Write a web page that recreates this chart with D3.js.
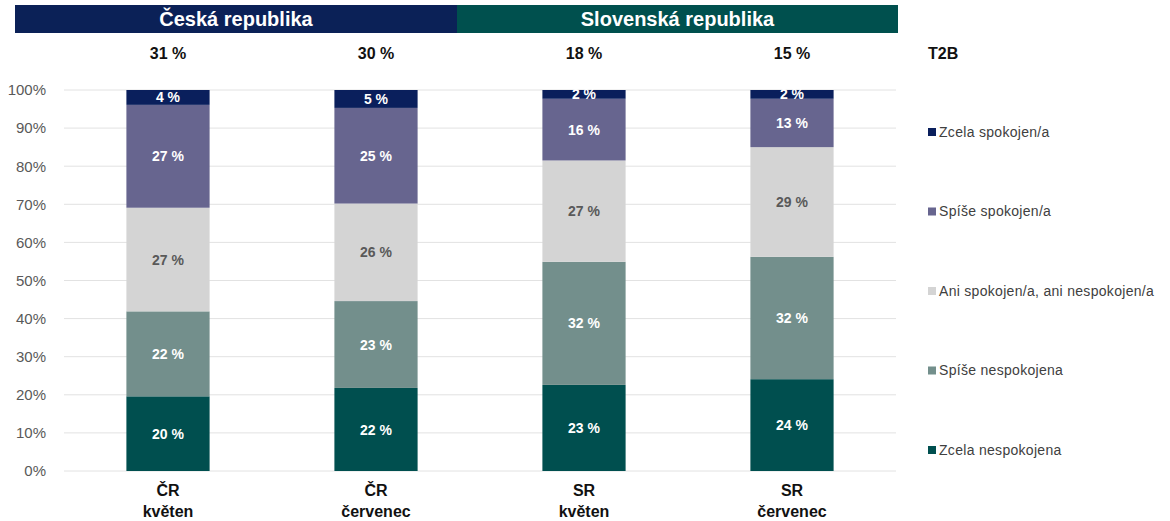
<!DOCTYPE html>
<html>
<head>
<meta charset="utf-8">
<script src="https://cdn.jsdelivr.net/npm/d3@7"></script>
<style>
  body { margin: 0; background: #fff; }
  svg { display: block; font-family: "Liberation Sans", Arial, sans-serif; }
</style>
</head>
<body>
<div id="chart"></div>
<script>
// categories (two lines each)
const categories = ['ČR|květen', 'ČR|červenec', 'SR|květen', 'SR|červenec'];
const t2b = [31, 30, 18, 15];

// series, bottom to top
const seriesNames = ['Zcela nespokojena', 'Spíše nespokojena', 'Ani spokojen/a, ani nespokojen/a', 'Spíše spokojen/a', 'Zcela spokojen/a'];
const zcelaNespokojena = [19.6, 21.8, 22.6, 24.1];
const spiseNespokojena = [22.3, 22.8, 32.3, 32.1];
const aniAni = [27.2, 25.6, 26.6, 28.8];
const spiseSpokojena = [27.0, 25.1, 16.2, 12.7];
const zcelaSpokojena = [3.9, 4.7, 2.3, 2.3];

const yTicks = [0, 10, 20, 30, 40, 50, 60, 70, 80, 90, 100];
const groups = [
  { name: 'Česká republika', color: '#0b2157' },
  { name: 'Slovenská republika', color: '#00504e' }
];

const colors = ['#004f4f', '#738f8c', '#d4d4d4', '#67658f', '#0a1f5c'];
const labelColors = ['#fff', '#fff', '#595959', '#fff', '#fff'];

const width = 1170, height = 521;
const margin = { left: 64, right: 274, top: 90, bottom: 50 };
const headerEdges = [15, 457, 898];

const svg = d3.select('#chart').append('svg')
  .attr('width', width)
  .attr('height', height);

const rows = categories.map((c, i) => ({
  cat: c,
  [seriesNames[0]]: zcelaNespokojena[i],
  [seriesNames[1]]: spiseNespokojena[i],
  [seriesNames[2]]: aniAni[i],
  [seriesNames[3]]: spiseSpokojena[i],
  [seriesNames[4]]: zcelaSpokojena[i]
}));

const stacked = d3.stack().keys(seriesNames)(rows);

const x = d3.scaleBand()
  .domain(categories)
  .range([margin.left, width - margin.right])
  .paddingInner(0.6)
  .paddingOuter(0.3);

const y = d3.scaleLinear()
  .domain([0, 100])
  .range([height - margin.bottom, margin.top]);

// gridlines
svg.append('g')
  .selectAll('line')
  .data(yTicks)
  .join('line')
  .attr('x1', margin.left)
  .attr('x2', width - margin.right)
  .attr('y1', d => y(d))
  .attr('y2', d => y(d))
  .attr('stroke', '#e2e2e2')
  .attr('stroke-width', 1);

// y axis labels
const yAxis = svg.append('g')
  .attr('transform', `translate(${margin.left - 15},0)`)
  .call(d3.axisLeft(y).tickValues(yTicks).tickFormat(d => d + '%').tickSize(0));
yAxis.select('.domain').remove();
yAxis.selectAll('text')
  .attr('font-size', 15)
  .attr('fill', '#595959')
  .attr('font-family', '"Liberation Sans", Arial, sans-serif');

// bars
const layer = svg.append('g')
  .selectAll('g')
  .data(stacked)
  .join('g')
  .attr('fill', (d, i) => colors[i]);

layer.selectAll('rect')
  .data(d => d)
  .join('rect')
  .attr('x', d => x(d.data.cat))
  .attr('width', x.bandwidth())
  .attr('y', d => y(d[1]))
  .attr('height', d => y(d[0]) - y(d[1]));

// segment labels
stacked.forEach((s, si) => {
  svg.append('g')
    .selectAll('text')
    .data(s)
    .join('text')
    .attr('x', d => x(d.data.cat) + x.bandwidth() / 2)
    .attr('y', d => (y(d[0]) + y(d[1])) / 2)
    .attr('dy', '0.36em')
    .attr('text-anchor', 'middle')
    .attr('font-size', 14)
    .attr('font-weight', 'bold')
    .attr('fill', labelColors[si])
    .text(d => Math.round(d[1] - d[0]) + ' %');
});

// x labels
const xl = svg.append('g')
  .selectAll('text')
  .data(categories)
  .join('text')
  .attr('x', d => x(d) + x.bandwidth() / 2)
  .attr('y', 496)
  .attr('text-anchor', 'middle')
  .attr('font-size', 16)
  .attr('font-weight', 'bold')
  .attr('fill', '#111');
xl.append('tspan')
  .attr('x', d => x(d) + x.bandwidth() / 2)
  .text(d => d.split('|')[0]);
xl.append('tspan')
  .attr('x', d => x(d) + x.bandwidth() / 2)
  .attr('dy', 21)
  .text(d => d.split('|')[1]);

// T2B row
svg.append('g')
  .selectAll('text')
  .data(t2b)
  .join('text')
  .attr('x', (d, i) => x(categories[i]) + x.bandwidth() / 2)
  .attr('y', 59)
  .attr('text-anchor', 'middle')
  .attr('font-size', 16)
  .attr('font-weight', 'bold')
  .attr('fill', '#111')
  .text(d => d + ' %');

svg.append('text')
  .attr('x', 928)
  .attr('y', 59)
  .attr('font-size', 16)
  .attr('font-weight', 'bold')
  .attr('fill', '#111')
  .text('T2B');

// group headers
const hdr = svg.append('g')
  .selectAll('g')
  .data(groups)
  .join('g');
hdr.append('rect')
  .attr('x', (d, i) => headerEdges[i])
  .attr('y', 5)
  .attr('width', (d, i) => headerEdges[i + 1] - headerEdges[i])
  .attr('height', 28)
  .attr('fill', d => d.color);
hdr.append('text')
  .attr('x', (d, i) => (headerEdges[i] + headerEdges[i + 1]) / 2)
  .attr('y', 26)
  .attr('text-anchor', 'middle')
  .attr('font-size', 20)
  .attr('font-weight', 'bold')
  .attr('fill', '#fff')
  .text(d => d.name);

// legend (top to bottom)
const legendItems = seriesNames.map((n, i) => ({ name: n, color: colors[i] })).reverse();
const lg = svg.append('g')
  .selectAll('g')
  .data(legendItems)
  .join('g')
  .attr('transform', (d, i) => `translate(928,${132 + i * 79.5})`);
lg.append('rect')
  .attr('x', 0)
  .attr('y', -4)
  .attr('width', 8)
  .attr('height', 8)
  .attr('fill', d => d.color);
lg.append('text')
  .attr('x', 11)
  .attr('dy', '0.35em')
  .attr('font-size', 14)
  .attr('letter-spacing', 0.3)
  .attr('fill', '#404040')
  .text(d => d.name);
</script>
</body>
</html>
